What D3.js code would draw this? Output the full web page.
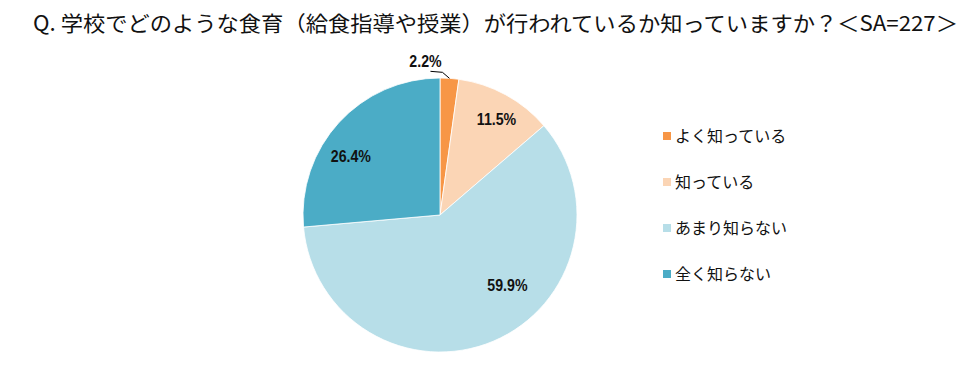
<!DOCTYPE html>
<html><head><meta charset="utf-8">
<script src="https://cdn.jsdelivr.net/npm/d3@7"></script>
<style>
body{margin:0;background:#fff;}
svg{display:block;}
</style></head>
<body>
<svg id="c" width="976" height="367"></svg>
<script>
const titleText = "Q. 学校でどのような食育（給食指導や授業）が行われているか知っていますか？＜SA=227＞";
const categories = ["よく知っている", "知っている", "あまり知らない", "全く知らない"];
const values = [2.2, 11.5, 59.9, 26.4];
const colors = ["#F79646", "#FBD5B5", "#B7DEE8", "#4BACC6"];

const svg = d3.select("#c");
const cx = 440, cy = 215, R = 137;

svg.append("text")
  .attr("x", 33).attr("y", 31)
  .attr("font-family", "'Noto Sans CJK JP', sans-serif")
  .attr("font-size", 21)
  .attr("fill", "#111")
  .attr("textLength", 925)
  .attr("lengthAdjust", "spacingAndGlyphs")
  .text(titleText);

const pie = d3.pie().sort(null).value(d => d)
  .startAngle(0).endAngle(2 * Math.PI);
const arcs = pie(values);
const arc = d3.arc().innerRadius(0).outerRadius(R);

const g = svg.append("g").attr("transform", `translate(${cx},${cy})`);
g.selectAll("path").data(arcs).join("path")
  .attr("d", arc)
  .attr("fill", (d, i) => colors[i])
  .attr("stroke", "#fff")
  .attr("stroke-width", 0.8);

const labelPlace = [null, {da: 2, rf: 0.81}, {da: -21, rf: 0.71}, {da: -9, rf: 0.78}];
function addLabel(x, y, txt) {
  g.append("text")
    .attr("transform", `translate(${x},${y}) scale(0.86,1)`)
    .attr("dy", "0.36em")
    .attr("text-anchor", "middle")
    .attr("font-family", "'Liberation Sans', Arial, sans-serif").attr("font-weight", "bold")
    .attr("font-size", 16.5).attr("fill", "#111")
    .text(txt);
}
arcs.forEach((a, i) => {
  const txt = values[i].toFixed(1) + "%";
  if (i === 0) {
    const mid = (a.startAngle + a.endAngle) / 2;
    const p0 = [Math.sin(mid) * R, -Math.cos(mid) * R];
    const p1 = [p0[0] - 7, p0[1] - 6];
    const p2 = [p1[0] - 12, p1[1] - 1];
    g.append("polyline")
      .attr("points", [p0, p1, p2].map(p => p.join(",")).join(" "))
      .attr("fill", "none").attr("stroke", "#000").attr("stroke-width", 1);
    addLabel(p2[0] - 5, p2[1] - 10, txt);
  } else {
    const lp = labelPlace[i];
    const mid = (a.startAngle + a.endAngle) / 2 + lp.da * Math.PI / 180;
    const r = R * lp.rf;
    addLabel(Math.sin(mid) * r, -Math.cos(mid) * r, txt);
  }
});

const y = d3.scalePoint().domain(categories).range([136, 274]);
const lg = svg.append("g");
categories.forEach((c, i) => {
  lg.append("rect")
    .attr("x", 663).attr("y", y(c) - 4).attr("width", 8).attr("height", 8)
    .attr("fill", colors[i]);
  lg.append("text")
    .attr("x", 675).attr("y", y(c)).attr("dy", "0.36em")
    .attr("font-family", "'Noto Sans CJK JP', sans-serif")
    .attr("font-size", 16).attr("fill", "#111")
    .text(c);
});
</script>
</body></html>
